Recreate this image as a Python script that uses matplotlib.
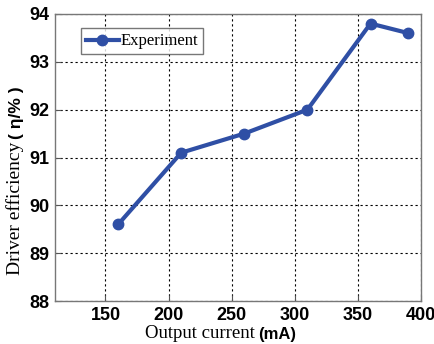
import matplotlib.pyplot as plt

current_ma = [160, 210, 260, 310, 360, 390]
efficiency = [89.6, 91.1, 91.5, 92.0, 93.8, 93.6]
x_ticks = [150, 200, 250, 300, 350, 400]
y_ticks = [88, 89, 90, 91, 92, 93, 94]

line_color = '#2f4fa5'
serif = 'Liberation Serif'
sans = 'Liberation Sans'

fig = plt.figure(figsize=(4.35, 3.44), dpi=100)
ax = fig.add_axes([55 / 435, 1 - 301 / 344, 366 / 435, 287 / 344])

ax.plot(current_ma, efficiency, color=line_color, lw=3, marker='o', ms=7.5,
        label='Experiment')

ax.set_xlim(110, 400)
ax.set_ylim(88, 94)
ax.set_xticks(x_ticks)
ax.set_yticks(y_ticks)
for lab in ax.get_xticklabels() + ax.get_yticklabels():
    lab.set_fontfamily(sans)
    lab.set_fontweight('bold')
    lab.set_fontsize(13)
ax.tick_params(direction='in', length=4, color='#555555', pad=4)
ax.grid(True, color='black', ls=(0, (2, 2.5)), lw=0.8)
for s in ax.spines.values():
    s.set_color('#777777')
    s.set_linewidth(1.0)

leg = ax.legend(loc='upper left', bbox_to_anchor=(0.07, 0.95), fancybox=False,
                prop={'family': serif, 'size': 12}, handlelength=2.0,
                handletextpad=0.1, borderpad=0.3, borderaxespad=0)
leg.get_frame().set_edgecolor('#555555')
leg.get_frame().set_linewidth(1.0)

# axis labels: serif words followed by a bold sans unit
xl = fig.text(145 / 435, 1 - 338 / 344, 'Output current', family=serif,
              fontsize=13.5, ha='left', va='baseline')
ax.annotate('(mA)', xy=(1, 0), xycoords=xl, xytext=(2, 0),
            textcoords='offset points', family=sans, fontweight='bold',
            fontsize=12, ha='left', va='bottom', annotation_clip=False)

yl = fig.text(24 / 435, 1 - 275 / 344, 'Driver efficiency', family=serif,
              fontsize=14, rotation=90, ha='right', va='bottom')
ax.annotate('( η/% )', xy=(1, 1), xycoords=yl, xytext=(0, 2),
            textcoords='offset points', family=sans, fontweight='bold',
            fontsize=12.5, rotation=90, ha='right', va='bottom',
            annotation_clip=False)

fig.savefig('out.png', dpi=100)
